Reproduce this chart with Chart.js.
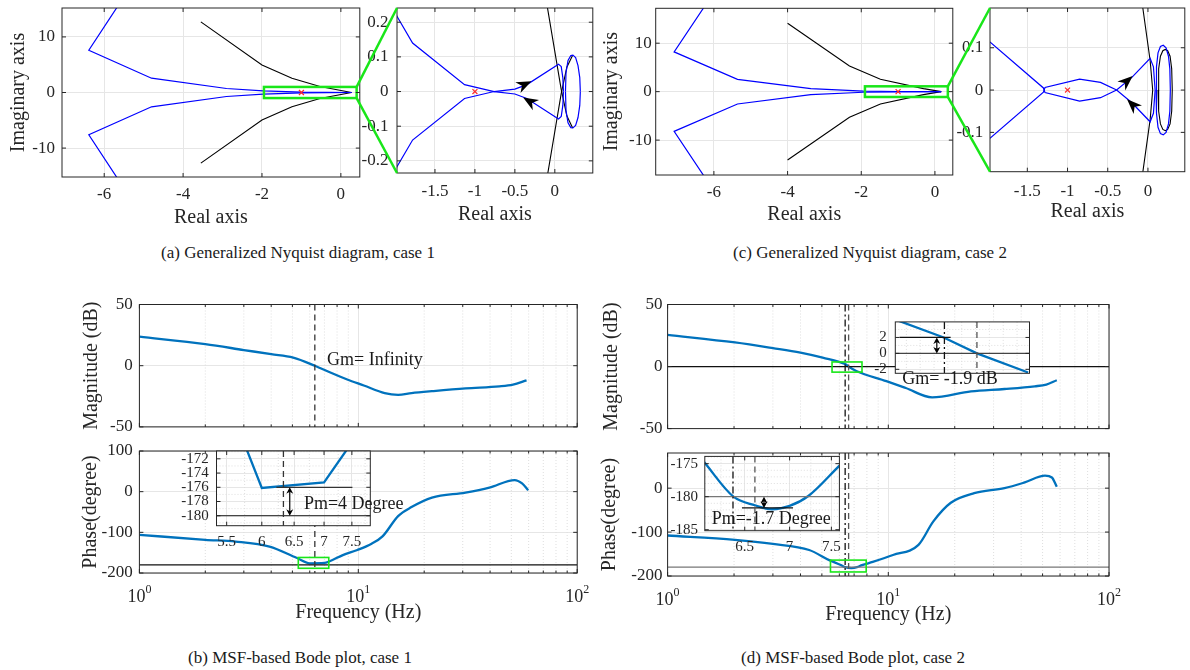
<!DOCTYPE html>
<html lang="en">
<head>
<meta charset="utf-8">
<title>Generalized Nyquist diagrams and MSF-based Bode plots</title>
<script src="https://cdn.jsdelivr.net/npm/chart.js@4.4.1/dist/chart.umd.min.js"></script>
<style>
  html, body { margin: 0; padding: 0; background: #fff; }
  #page { position: relative; width: 1190px; height: 670px; overflow: hidden; background: #fff; }
  #page canvas { position: absolute; }
  .caption {
    position: absolute; transform: translate(-50%, -50%);
    font-family: 'Liberation Serif', 'Times New Roman', serif;
    font-size: 17px; color: #1a1a1a; white-space: nowrap;
  }
</style>
</head>
<body>
<div id="page">
  <div class="caption" style="left:298px; top:253px">(a) Generalized Nyquist diagram, case 1</div>
  <div class="caption" style="left:870px; top:253px">(c) Generalized Nyquist diagram, case 2</div>
  <div class="caption" style="left:300px; top:658px">(b) MSF-based Bode plot, case 1</div>
  <div class="caption" style="left:853px; top:658px">(d) MSF-based Bode plot, case 2</div>
</div>
<script>
// ---------- data ----------
// Nyquist loci: upper halves, the lower halves are the complex conjugates
// case 1, full view
const caseA_blueRe  = [-5.52, -6.39, -4.8, -2.9, -1.97, -1.0, 0.27];
const caseA_blueIm  = [17.0, 7.6, 2.57, 0.72, 0.29, 0.06, 0.0];
const caseA_blackRe = [-3.55, -2.0, -1.24, -0.53, 0.27];
const caseA_blackIm = [12.7, 4.96, 2.57, 1.08, 0.0];
// case 1, zoom
const zoomA_blueRe  = [-2.0, -1.97, -1.78, -1.13, -0.76, -0.5, -0.35, 0.046, 0.08, 0.1, 0.108];
const zoomA_blueIm  = [0.227, 0.215, 0.14, 0.02, 0.0, -0.007, -0.02, -0.079, -0.072, -0.04, 0.0];
const zoomA_loopRe  = [0.133, 0.14, 0.165, 0.2, 0.226, 0.26, 0.29, 0.312, 0.319];
const zoomA_loopIm  = [0.0, 0.055, 0.09, 0.104, 0.105, 0.098, 0.075, 0.04, 0.0];
const zoomA_blackRe = [-0.11, -0.094, 0.079, 0.15, 0.223];
const zoomA_blackIm = [0.27, 0.244, 0.007, -0.07, -0.105];
// case 2, full view
const caseC_blueRe  = [-6.13, -7.08, -5.36, -3.37, -1.94, -1.0, 0.17];
const caseC_blueIm  = [19.0, 8.2, 2.55, 0.62, 0.12, 0.03, 0.0];
const caseC_blackRe = [-4.0, -2.32, -1.48, -0.31, 0.17];
const caseC_blackIm = [14.1, 5.3, 2.55, 0.62, 0.0];
// case 2, zoom
const zoomC_blueRe  = [-2.0, -1.965, -1.3, -1.28, -0.85, -0.59, -0.39, -0.2, 0.027, 0.068, 0.089];
const zoomC_blueIm  = [0.12, 0.114, 0.005, -0.006, -0.026, -0.018, 0.0, 0.03, 0.075, 0.055, 0.0];
const zoomC_loopRe  = [0.1, 0.106, 0.125, 0.155, 0.19, 0.225, 0.255, 0.272, 0.278];
const zoomC_loopIm  = [0.0, 0.055, 0.088, 0.103, 0.106, 0.1, 0.08, 0.05, 0.0];
const zoomC_bLoopRe = [0.125, 0.133, 0.155, 0.185, 0.215, 0.245, 0.275, 0.295, 0.302];
const zoomC_bLoopIm = [0.0, 0.05, 0.08, 0.093, 0.096, 0.093, 0.08, 0.05, 0.0];
const zoomC_blackRe = [-0.08, -0.064, 0.027, 0.059];
const zoomC_blackIm = [0.23, 0.194, 0.07, 0.0];

const criticalPoint = [-1, 0];
// direction arrows: [fromRe, fromIm, tipRe, tipIm]
const arrowsA = [[-0.5, 0.007, -0.293, 0.03], [0.046, -0.079, -0.397, -0.017]];
const arrowsC = [[-0.39, 0.0, -0.19, 0.033], [0.027, -0.075, -0.26, -0.022]];
// zoomed regions: [reMin, reMax, imMin, imMax]
const zoomBoxA = [-1.95, 0.4, -1.0, 1.0];
const zoomBoxC = [-1.9, 0.35, -1.1, 1.1];

// MSF-based Bode, case 1
const bMagF   = [1, 2, 3, 4, 5.04, 6.33, 7.5, 8.9, 10.6, 13.2, 15.2, 17.5, 21.7, 30.9, 44.1, 50.9, 58.7];
const bMagDb  = [23.7, 17.6, 12.8, 9.4, 6.6, 0, -5.8, -11.3, -16.2, -22.4, -23.8, -22.4, -20.8, -18.5, -16.9, -15.5, -12];
const bPhF    = [1, 2, 2.75, 3.93, 5.22, 6.0, 7.0, 7.4, 8.5, 9.9, 11.5, 12.9, 15.2, 17.5, 21.7, 30.9, 39.7, 51.8, 56, 59.7];
const bPhDeg  = [-106, -118.4, -122.7, -135, -162.6, -176.1, -175.3, -171, -156, -143.5, -128, -110, -60, -38, -14.7, -2.2, 10, 28.6, 20.2, 3.7];
const bInsF   = [5.72, 6.0, 7.0, 7.5];
const bInsDeg = [-169.2, -176.1, -175.3, -169.7];
const bCross  = 6.33;            // gain crossover (dashed)
const bPmLevel = [-176, -180];   // phase margin: curve minimum and -180
const bPmSpan  = [6.22, 7.51];
const bPmArrowF = 6.43;
const bGreenBox = [5.32, 7.33, -188.4, -161.8];

// MSF-based Bode, case 2
const dMagF   = [1, 2.02, 3, 4, 5.04, 6.37, 6.61, 7.16, 9.8, 12, 15.8, 23.7, 33.6, 46.1, 52, 58];
const dMagDb  = [25.5, 19.4, 14.9, 11.3, 7.2, 2.0, 0, -3.6, -11.8, -17.3, -24.9, -20, -18.1, -15.9, -14.5, -11];
const dPhF    = [1, 2.02, 3, 4.38, 5.4, 6.09, 6.38, 6.8, 7.22, 7.6, 8.5, 10.5, 13.7, 16.0, 19.2, 24.5, 33.6, 41.5, 51.3, 55.1, 58];
const dPhDeg  = [-107.8, -117.7, -127, -140.8, -163.8, -175, -180, -181.9, -179.9, -175.3, -168, -152.3, -129, -75.6, -33.2, -11.5, 0, 13, 28.3, 24.2, 3];
const dInsMagF  = [6.02, 6.37, 6.61, 6.98];
const dInsMagDb = [4.24, 2.0, 0.0, -2.4];
const dInsPhF   = [6.08, 6.38, 6.61, 6.8, 7.0, 7.22, 7.6];
const dInsPhDeg = [-174.8, -180, -181.3, -181.9, -181.4, -179.9, -175.3];
const dPhaseX = 6.375;           // phase crossover (dash-dot)
const dGainX  = 6.61;            // gain crossover (dashed)
const dGmLevel = [2, 0];
const dGmSpan  = [6.05, 6.42];
const dGmArrowF = 6.32;
const dPmLevel = [-180, -181.7];
const dPmSpan  = [6.47, 7.04];
const dPmArrowF = 6.71;
const dMagBox   = [5.56, 7.6, -4.5, 3.7];
const dPhaseBox = [5.47, 7.94, -190.8, -163.8];

// tick labels
const nyqTicksX   = [-6, -4, -2, 0];
const nyqTicksY   = [-10, 0, 10];
const zoomTicksX  = [-1.5, -1, -0.5, 0];
const zoomATicksY = [-0.2, -0.1, 0, 0.1, 0.2];
const zoomCTicksY = [-0.1, 0, 0.1];
const freqTicks   = [1, 10, 100];
const magTicks    = [-50, 0, 50];
const phaseBTicks = [-200, -100, 0, 100];
const phaseDTicks = [-200, -100, 0];
const insBTicksX  = [5.5, 6, 6.5, 7, 7.5];
const insBTicksY  = [-180, -178, -176, -174, -172];
const insDPhTicksX = [6.5, 7, 7.5];
const insDPhTicksY = [-185, -180, -175];
const insDMagTicksY = [-2, 0, 2];

// ---------- styling ----------
const SERIF = "'Liberation Serif', 'Times New Roman', serif";
const INK = '#262626';
const TXT = '#1a1a1a';
const GRID = '#e6e6e6';
const MINOR = '#dedede';
const NYQ_BLUE = '#0000ff';
const BODE_BLUE = '#0072bd';
const GREEN = '#19e619';
const RED = '#ff2a2a';
const DASH = [6, 4];
const DASHDOT = [7, 3, 2, 3];
const logMinor = [2, 3, 4, 5, 6, 7, 8, 9, 20, 30, 40, 50, 60, 70, 80, 90];

const page = document.getElementById('page');

function pts(xs, ys) { return xs.map((v, i) => ({x: v, y: ys[i]})); }
function conj(xs, ys) { return xs.map((v, i) => ({x: v, y: -ys[i]})); }
function curve(data, color, width, extra) {
  return Object.assign({data: data, showLine: true, borderColor: color, borderWidth: width,
    pointRadius: 0, fill: false, tension: 0}, extra || {});
}
function bode(data) { return curve(data, BODE_BLUE, 2.3, {cubicInterpolationMode: 'monotone'}); }
function mark() {
  return {data: [{x: criticalPoint[0], y: criticalPoint[1]}], showLine: false, pointStyle: 'crossRot',
    pointRadius: 3.5, borderColor: RED, borderWidth: 1.2, backgroundColor: RED};
}

function seg(ctx, x0, y0, x1, y1) { ctx.beginPath(); ctx.moveTo(x0, y0); ctx.lineTo(x1, y1); ctx.stroke(); }

function arrowHead(ctx, x0, y0, x1, y1, len, half) {
  const a = Math.atan2(y1 - y0, x1 - x0);
  const ux = Math.cos(a), uy = Math.sin(a), nx = -uy, ny = ux;
  ctx.beginPath();
  ctx.moveTo(x1, y1);
  ctx.lineTo(x1 - len * ux + half * nx, y1 - len * uy + half * ny);
  ctx.lineTo(x1 - len * 0.7 * ux, y1 - len * 0.7 * uy);
  ctx.lineTo(x1 - len * ux - half * nx, y1 - len * uy - half * ny);
  ctx.closePath();
  ctx.fill();
}

// decorations: white background for insets, dotted minor grid, reference lines,
// zoom boxes, arrows, frame with inward ticks, notes and 10^n labels
function decor(spec) {
  return {
    id: 'decor',
    beforeDraw(chart) {
      if (!spec.bg) return;
      const a = chart.chartArea, ctx = chart.ctx;
      ctx.save();
      ctx.fillStyle = '#fff';
      ctx.fillRect(a.left, a.top, a.right - a.left, a.bottom - a.top);
      ctx.restore();
    },
    beforeDatasetsDraw(chart) {
      const {ctx, chartArea: a, scales: {x, y}} = chart;
      ctx.save();
      ctx.strokeStyle = MINOR; ctx.lineWidth = 1; ctx.setLineDash([1, 2]);
      (spec.minorX || []).forEach(v => { const p = x.getPixelForValue(v); seg(ctx, p, a.top, p, a.bottom); });
      (spec.minorY || []).forEach(v => { const p = y.getPixelForValue(v); seg(ctx, a.left, p, a.right, p); });
      ctx.restore();
    },
    afterDraw(chart) {
      const {ctx, chartArea: a, scales: {x, y}} = chart;
      const X = v => x.getPixelForValue(v), Y = v => y.getPixelForValue(v);
      ctx.save();
      ctx.beginPath(); ctx.rect(a.left, a.top, a.right - a.left, a.bottom - a.top); ctx.clip();
      (spec.hlines || []).forEach(h => {
        ctx.strokeStyle = h.color || '#111'; ctx.lineWidth = h.width || 1.2; ctx.setLineDash(h.dash || []);
        seg(ctx, h.from != null ? X(h.from) : a.left, Y(h.y), h.to != null ? X(h.to) : a.right, Y(h.y));
      });
      (spec.vlines || []).forEach(l => {
        ctx.strokeStyle = l.color || '#333'; ctx.lineWidth = l.width || 1.3; ctx.setLineDash(l.dash || []);
        seg(ctx, X(l.x), a.top, X(l.x), a.bottom);
      });
      ctx.setLineDash([]);
      (spec.boxes || []).forEach(b => {
        ctx.strokeStyle = GREEN; ctx.lineWidth = b.width || 1.6;
        ctx.strokeRect(X(b.r[0]), Y(b.r[3]), X(b.r[1]) - X(b.r[0]), Y(b.r[2]) - Y(b.r[3]));
      });
      ctx.restore();

      ctx.save();
      ctx.fillStyle = '#000'; ctx.strokeStyle = '#000';
      (spec.arrows || []).forEach(r => arrowHead(ctx, X(r[0]), Y(r[1]), X(r[2]), Y(r[3]), 15, 6));
      (spec.darrows || []).forEach(d => {
        const px = X(d.x), y0 = Y(d.y0), y1 = Y(d.y1);
        ctx.lineWidth = 1.2;
        const s = Math.sign(y1 - y0);
        seg(ctx, px, y0 + s * 4, px, y1 - s * 4);
        arrowHead(ctx, px, y1, px, y0, 6.5, 3.5);
        arrowHead(ctx, px, y0, px, y1, 6.5, 3.5);
      });
      ctx.restore();

      // frame and inward ticks
      ctx.save();
      ctx.strokeStyle = INK; ctx.lineWidth = 1;
      ctx.strokeRect(a.left, a.top, a.right - a.left, a.bottom - a.top);
      const tick = (vals, len, horiz) => vals.forEach(v => {
        if (horiz) { const p = X(v); seg(ctx, p, a.bottom, p, a.bottom - len); seg(ctx, p, a.top, p, a.top + len); }
        else { const p = Y(v); seg(ctx, a.left, p, a.left + len, p); seg(ctx, a.right, p, a.right - len, p); }
      });
      tick(x.ticks.map(t => t.value), 4, true);
      tick(y.ticks.map(t => t.value), 4, false);
      if (spec.minorTicks) tick(spec.minorX || [], 2.5, true);
      ctx.restore();

      ctx.save();
      ctx.fillStyle = TXT; ctx.textAlign = 'left'; ctx.textBaseline = 'middle';
      (spec.notes || []).forEach(n => {
        ctx.font = (n.size || 18) + 'px ' + SERIF;
        ctx.fillText(n.text, X(n.x), Y(n.y));
      });
      if (spec.pow10Y != null) {
        const cy = spec.pow10Y - spec.box[1];
        x.ticks.forEach(t => {
          const e = String(Math.round(Math.log10(t.value)));
          ctx.font = '18px ' + SERIF; const w1 = ctx.measureText('10').width;
          ctx.font = '12px ' + SERIF; const w2 = ctx.measureText(e).width;
          const x0 = X(t.value) - (w1 + w2) / 2;
          ctx.font = '18px ' + SERIF; ctx.fillStyle = INK; ctx.fillText('10', x0, cy);
          ctx.font = '12px ' + SERIF; ctx.fillText(e, x0 + w1, cy - 7);
        });
      }
      ctx.restore();
    }
  };
}

function build(spec) {
  const [pl, pt, pr, pb] = spec.plot;
  const [cl, ct, cr, cb] = spec.box;
  const cv = document.createElement('canvas');
  cv.width = cr - cl; cv.height = cb - ct;
  cv.style.left = cl + 'px'; cv.style.top = ct + 'px';
  cv.style.width = (cr - cl) + 'px'; cv.style.height = (cb - ct) + 'px';
  page.appendChild(cv);
  const fs = spec.fontSize || 17;
  const axis = (ax, horiz) => ({
    type: ax.log ? 'logarithmic' : 'linear',
    position: horiz ? 'bottom' : 'left',
    min: ax.min, max: ax.max, bounds: 'data',
    afterFit: s => {
      if (horiz) s.height = cb - pb; else s.width = pl - cl;
      s.paddingLeft = 0; s.paddingRight = 0; s.paddingTop = 0; s.paddingBottom = 0;
    },
    afterBuildTicks: s => { s.ticks = ax.ticks.map(v => ({value: v})); },
    ticks: {
      display: ax.labels !== false,
      font: {family: SERIF, size: fs}, color: INK,
      padding: horiz ? (ax.labelCy || 0) - pb - fs * 0.6 : pl - (ax.labelRight || 0),
      maxRotation: 0, minRotation: 0, autoSkip: false,
      callback: v => String(v)
    },
    grid: {display: ax.grid !== false, color: GRID, lineWidth: 1, drawTicks: false},
    border: {display: false},
    title: ax.title ? {
      display: true, text: ax.title, color: INK, font: {family: SERIF, size: 20},
      padding: horiz ? cb - 12 - ax.titlePos : ax.titlePos - cl - 12
    } : {display: false}
  });
  return new Chart(cv, {
    type: 'scatter',
    data: {datasets: spec.datasets},
    options: {
      responsive: false, animation: false, devicePixelRatio: 1, events: [],
      layout: {padding: {left: 0, top: pt - ct, right: cr - pr, bottom: 0}},
      scales: {x: axis(spec.x, true), y: axis(spec.y, false)},
      plugins: {legend: {display: false}, tooltip: {enabled: false}}
    },
    plugins: [decor(spec)]
  });
}

// ---------- (a) Nyquist, case 1 ----------
const chartA1 = build({
  plot: [62, 8, 360, 177], box: [0, 0, 365, 232],
  x: {min: -7.07, max: 0.48, ticks: nyqTicksX, labelCy: 195, title: 'Real axis', titlePos: 218},
  y: {min: -15.2, max: 15.2, ticks: nyqTicksY, labelRight: 55, title: 'Imaginary axis', titlePos: 18.5},
  boxes: [{r: zoomBoxA, width: 2.5}],
  datasets: [mark(),
    curve(pts(caseA_blueRe, caseA_blueIm), NYQ_BLUE, 1.2), curve(conj(caseA_blueRe, caseA_blueIm), NYQ_BLUE, 1.2),
    curve(pts(caseA_blackRe, caseA_blackIm), '#000', 1.1), curve(conj(caseA_blackRe, caseA_blackIm), '#000', 1.1)]
});
const chartA2 = build({
  plot: [397, 8, 594, 173], box: [358, 0, 598, 232],
  x: {min: -1.975, max: 0.475, ticks: zoomTicksX, labelCy: 191.7, title: 'Real axis', titlePos: 214.5},
  y: {min: -0.235, max: 0.241, ticks: zoomATicksY, labelRight: 388.5},
  arrows: arrowsA,
  datasets: [mark(),
    curve(pts(zoomA_blueRe, zoomA_blueIm), NYQ_BLUE, 1.2), curve(conj(zoomA_blueRe, zoomA_blueIm), NYQ_BLUE, 1.2),
    curve(pts(zoomA_loopRe, zoomA_loopIm), NYQ_BLUE, 1.2), curve(conj(zoomA_loopRe, zoomA_loopIm), NYQ_BLUE, 1.2),
    curve(pts(zoomA_blackRe, zoomA_blackIm), '#000', 1.1), curve(conj(zoomA_blackRe, zoomA_blackIm), '#000', 1.1)]
});

// ---------- (c) Nyquist, case 2 ----------
const chartC1 = build({
  plot: [655.7, 8.3, 953.3, 175], box: [596, 0, 958, 232],
  x: {min: -7.58, max: 0.485, ticks: nyqTicksX, labelCy: 193, title: 'Real axis', titlePos: 215},
  y: {min: -17.2, max: 17.2, ticks: nyqTicksY, labelRight: 651.7, title: 'Imaginary axis', titlePos: 611.5},
  boxes: [{r: zoomBoxC, width: 2.5}],
  datasets: [mark(),
    curve(pts(caseC_blueRe, caseC_blueIm), NYQ_BLUE, 1.2), curve(conj(caseC_blueRe, caseC_blueIm), NYQ_BLUE, 1.2),
    curve(pts(caseC_blackRe, caseC_blackIm), '#000', 1.1), curve(conj(caseC_blackRe, caseC_blackIm), '#000', 1.1)]
});
const chartC2 = build({
  plot: [990, 8, 1186.7, 171.7], box: [952, 0, 1190, 232],
  x: {min: -1.964, max: 0.458, ticks: zoomTicksX, labelCy: 191.7, title: 'Real axis', titlePos: 211.7},
  y: {min: -0.193, max: 0.194, ticks: zoomCTicksY, labelRight: 983.3},
  arrows: arrowsC,
  datasets: [mark(),
    curve(pts(zoomC_blueRe, zoomC_blueIm), NYQ_BLUE, 1.2), curve(conj(zoomC_blueRe, zoomC_blueIm), NYQ_BLUE, 1.2),
    curve(pts(zoomC_loopRe, zoomC_loopIm), NYQ_BLUE, 1.2), curve(conj(zoomC_loopRe, zoomC_loopIm), NYQ_BLUE, 1.2),
    curve(pts(zoomC_bLoopRe, zoomC_bLoopIm), '#000', 1.1), curve(conj(zoomC_bLoopRe, zoomC_bLoopIm), '#000', 1.1),
    curve(pts(zoomC_blackRe, zoomC_blackIm), '#000', 1.1), curve(conj(zoomC_blackRe, zoomC_blackIm), '#000', 1.1)]
});

// ---------- (b) Bode, case 1 ----------
build({
  plot: [139.4, 304.5, 577.2, 426.9], box: [70, 290, 600, 440],
  x: {log: true, min: 1, max: 100, ticks: freqTicks, labels: false},
  y: {min: -50, max: 50, ticks: magTicks, labelRight: 132.7, title: 'Magnitude (dB)', titlePos: 91.3},
  minorX: logMinor, minorTicks: true,
  vlines: [{x: bCross, dash: DASH, color: '#333'}],
  notes: [{x: 7.2, y: 4.7, text: 'Gm= Infinity'}],
  datasets: [bode(pts(bMagF, bMagDb))]
});
build({
  plot: [139.4, 451, 577.2, 573], box: [70, 440, 600, 632],
  x: {log: true, min: 1, max: 100, ticks: freqTicks, labels: false, title: 'Frequency (Hz)', titlePos: 613},
  y: {min: -200, max: 100, ticks: phaseBTicks, labelRight: 132.7, title: 'Phase(degree)', titlePos: 90.4},
  minorX: logMinor, minorTicks: true, pow10Y: 597,
  vlines: [{x: bCross, dash: DASH, color: '#333'}],
  hlines: [{y: bPmLevel[1], color: '#111'}],
  boxes: [{r: bGreenBox, width: 1.6}],
  datasets: [bode(pts(bPhF, bPhDeg))]
});
build({
  plot: [216.5, 451, 370.3, 525.7], box: [172, 446, 420, 552], fontSize: 15, bg: true,
  x: {log: true, min: 5.363, max: 7.85, ticks: insBTicksX, labelCy: 541.6},
  y: {min: -181.4, max: -170.9, ticks: insBTicksY, labelRight: 208.7},
  minorX: [5.75, 6.25, 6.75, 7.25, 7.75], minorY: [-181, -179, -177, -175, -173, -171],
  vlines: [{x: bCross, dash: DASH, color: '#333'}],
  hlines: [{y: bPmLevel[1], color: '#111'}, {y: bPmLevel[0], from: bPmSpan[0], to: bPmSpan[1], color: '#333'}],
  darrows: [{x: bPmArrowF, y0: bPmLevel[0], y1: bPmLevel[1]}],
  notes: [{x: 6.66, y: -178.4, text: 'Pm=4 Degree'}],
  datasets: [curve(pts(bInsF, bInsDeg), BODE_BLUE, 2.3)]
});

// ---------- (d) Bode, case 2 ----------
build({
  plot: [667.6, 304.5, 1109, 428.6], box: [597, 290, 1135, 442],
  x: {log: true, min: 1, max: 100, ticks: freqTicks, labels: false},
  y: {min: -50, max: 50, ticks: magTicks, labelRight: 662.5, title: 'Magnitude (dB)', titlePos: 611.8},
  minorX: logMinor, minorTicks: true,
  vlines: [{x: dPhaseX, dash: DASHDOT, color: '#111'}, {x: dGainX, dash: DASH, color: '#555'}],
  hlines: [{y: 0, color: '#111'}],
  boxes: [{r: dMagBox, width: 1.6}],
  datasets: [bode(pts(dMagF, dMagDb))]
});
build({
  plot: [667.6, 453, 1109, 576], box: [597, 442, 1135, 632],
  x: {log: true, min: 1, max: 100, ticks: freqTicks, labels: false, title: 'Frequency (Hz)', titlePos: 615},
  y: {min: -200, max: 80, ticks: phaseDTicks, labelRight: 662.5, title: 'Phase(degree)', titlePos: 609.3},
  minorX: logMinor, minorTicks: true, pow10Y: 600,
  vlines: [{x: dPhaseX, dash: DASHDOT, color: '#111'}, {x: dGainX, dash: DASH, color: '#555'}],
  hlines: [{y: -180, color: '#777'}],
  boxes: [{r: dPhaseBox, width: 1.6}],
  datasets: [bode(pts(dPhF, dPhDeg))]
});
build({
  plot: [895.3, 321.9, 1029.5, 373.3], box: [866, 316, 1036, 392], fontSize: 15, bg: true,
  x: {min: 6.02, max: 6.99, ticks: [], labels: false, grid: false},
  y: {min: -2.5, max: 3.95, ticks: insDMagTicksY, labelRight: 886.7},
  minorX: [6.1, 6.2, 6.3, 6.4, 6.5, 6.6, 6.7, 6.8, 6.9], minorY: [-1, 1, 3],
  vlines: [{x: dPhaseX, dash: DASHDOT, color: '#111'}, {x: dGainX, dash: DASH, color: '#555'}],
  hlines: [{y: dGmLevel[1], color: '#444'}, {y: dGmLevel[0], from: dGmSpan[0], to: dGmSpan[1], color: '#111'}],
  darrows: [{x: dGmArrowF, y0: dGmLevel[0], y1: dGmLevel[1]}],
  notes: [{x: 6.07, y: -3.24, text: 'Gm= -1.9 dB'}],
  datasets: [curve(pts(dInsMagF, dInsMagDb), BODE_BLUE, 2.3)]
});
build({
  plot: [704.8, 456.4, 839.4, 530.7], box: [660, 452, 850, 556], fontSize: 15, bg: true,
  x: {log: true, min: 6.085, max: 7.6, ticks: insDPhTicksX, labelCy: 546.6},
  y: {min: -185.15, max: -173.9, ticks: insDPhTicksY, labelRight: 698},
  minorX: [6.25, 6.75, 7.25], minorY: [-184, -183, -182, -181, -179, -178, -177, -176, -174],
  vlines: [{x: dPhaseX, dash: DASHDOT, color: '#111'}, {x: dGainX, dash: DASH, color: '#555'}],
  hlines: [{y: dPmLevel[0], color: '#777'}, {y: dPmLevel[1], from: dPmSpan[0], to: dPmSpan[1], color: '#111'}],
  darrows: [{x: dPmArrowF, y0: dPmLevel[0], y1: dPmLevel[1]}],
  notes: [{x: 6.154, y: -183.35, text: 'Pm=-1.7 Degree'}],
  datasets: [curve(pts(dInsPhF, dInsPhDeg), BODE_BLUE, 2.3, {cubicInterpolationMode: 'monotone'})]
});

// ---------- green connectors from the zoom boxes to the zoomed axes ----------
const overlay = document.createElement('canvas');
overlay.width = 1190; overlay.height = 670;
overlay.style.left = '0px'; overlay.style.top = '0px'; overlay.style.pointerEvents = 'none';
page.appendChild(overlay);
function connect(main, zoom, box, mainLeft, zoomLeft) {
  const ctx = overlay.getContext('2d');
  const xr = main.scales.x.getPixelForValue(box[1]) + mainLeft;
  const yt = main.scales.y.getPixelForValue(box[3]);
  const yb = main.scales.y.getPixelForValue(box[2]);
  const za = zoom.chartArea;
  ctx.strokeStyle = GREEN; ctx.lineWidth = 2.5;
  seg(ctx, xr, yt, za.left + zoomLeft, za.top);
  seg(ctx, xr, yb, za.left + zoomLeft, za.bottom);
}
connect(chartA1, chartA2, zoomBoxA, 0, 358);
connect(chartC1, chartC2, zoomBoxC, 596, 952);
</script>
</body>
</html>
